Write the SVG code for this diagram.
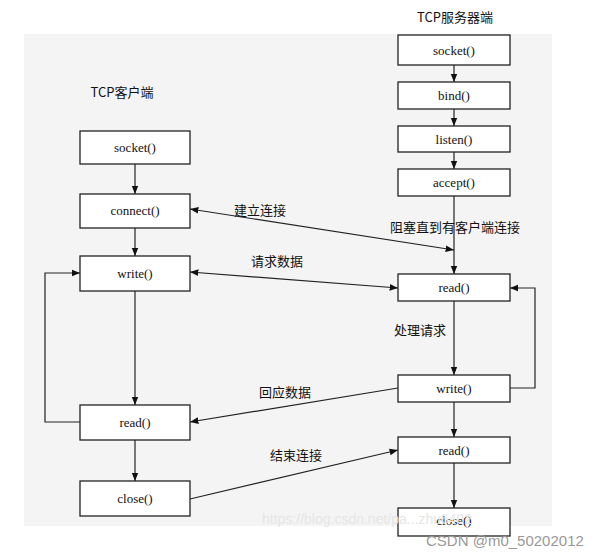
<svg xmlns="http://www.w3.org/2000/svg" width="612" height="552" viewBox="0 0 612 552">
<style>
.b{fill:#fff;stroke:#222;stroke-width:1.3}
.t{font-family:"Liberation Serif","Noto Sans CJK SC",serif;font-size:13px;fill:#111;text-anchor:middle}
.c{font-family:"Noto Sans CJK SC",sans-serif;font-size:13px;fill:#111;text-anchor:middle}
.l{stroke:#222;stroke-width:1.2;fill:none;marker-end:url(#a)}
</style>
<defs><marker id="a" viewBox="0 0 10 10" refX="10" refY="5" markerWidth="7" markerHeight="7" orient="auto-start-reverse"><path d="M0,1L10,5L0,9z" fill="#111"/></marker></defs>
<rect width="612" height="552" fill="#fff"/>
<rect x="24" y="34" width="528" height="492" fill="#f4f4f4"/>
<text class="c" x="455" y="22">TCP服务器端</text>
<text class="c" x="122" y="97">TCP客户端</text>
<g id="connectors">
<path class="l" d="M454,65V82"/>
<path class="l" d="M454,109V126"/>
<path class="l" d="M454,152V169"/>
<path class="l" d="M454,196V274"/>
<path class="l" d="M135,164V194"/>
<path class="l" d="M135,228V256"/>
<path class="l" d="M135,291V405"/>
<path class="l" d="M135,440V481"/>
<path class="l" d="M454,301V375"/>
<path class="l" d="M454,402V437"/>
<path class="l" d="M454,463V508"/>
<path class="l" d="M80,422H45V273H80"/>
<path class="l" d="M510,388H535V288H510"/>
<path class="l" d="M190,209L454,250" marker-start="url(#a)"/>
<path class="l" d="M190,272L398,288" marker-start="url(#a)"/>
<path class="l" d="M398,388L190,422"/>
<path class="l" d="M190,499L398,450"/>
</g>
<g id="s_socket"><rect class="b" x="398" y="35" width="112" height="30"/><text class="t" x="454" y="55">socket()</text></g>
<g id="s_bind"><rect class="b" x="398" y="82" width="112" height="27"/><text class="t" x="454" y="100">bind()</text></g>
<g id="s_listen"><rect class="b" x="398" y="126" width="112" height="26"/><text class="t" x="454" y="144">listen()</text></g>
<g id="s_accept"><rect class="b" x="398" y="169" width="112" height="27"/><text class="t" x="454" y="187">accept()</text></g>
<g id="s_read"><rect class="b" x="398" y="274" width="112" height="27"/><text class="t" x="454" y="292">read()</text></g>
<g id="s_write"><rect class="b" x="398" y="375" width="112" height="27"/><text class="t" x="454" y="393">write()</text></g>
<g id="s_read2"><rect class="b" x="398" y="437" width="112" height="26"/><text class="t" x="454" y="455">read()</text></g>
<g id="s_close"><rect class="b" x="398" y="508" width="112" height="28"/><text class="t" x="454" y="525">close()</text></g>
<g id="c_socket"><rect class="b" x="80" y="131" width="110" height="33"/><text class="t" x="135" y="152">socket()</text></g>
<g id="c_connect"><rect class="b" x="80" y="194" width="110" height="34"/><text class="t" x="135" y="215">connect()</text></g>
<g id="c_write"><rect class="b" x="80" y="256" width="110" height="35"/><text class="t" x="135" y="278">write()</text></g>
<g id="c_read"><rect class="b" x="80" y="405" width="110" height="35"/><text class="t" x="135" y="427">read()</text></g>
<g id="c_close"><rect class="b" x="80" y="481" width="110" height="35"/><text class="t" x="135" y="503">close()</text></g>
<text class="c" x="260" y="215">建立连接</text>
<text class="c" x="455" y="232">阻塞直到有客户端连接</text>
<text class="c" x="277" y="266">请求数据</text>
<text class="c" x="420" y="335">处理请求</text>
<text class="c" x="285" y="397">回应数据</text>
<text class="c" x="296" y="460">结束连接</text>
<text x="262" y="524" font-family="Liberation Sans,sans-serif" font-size="14" fill="#e6e6e6">https://blog.csdn.net/pa...zhu6402</text>
<text x="426" y="546" font-family="Liberation Sans,sans-serif" font-size="15" fill="#999">CSDN @m0_50202012</text>
</svg>
